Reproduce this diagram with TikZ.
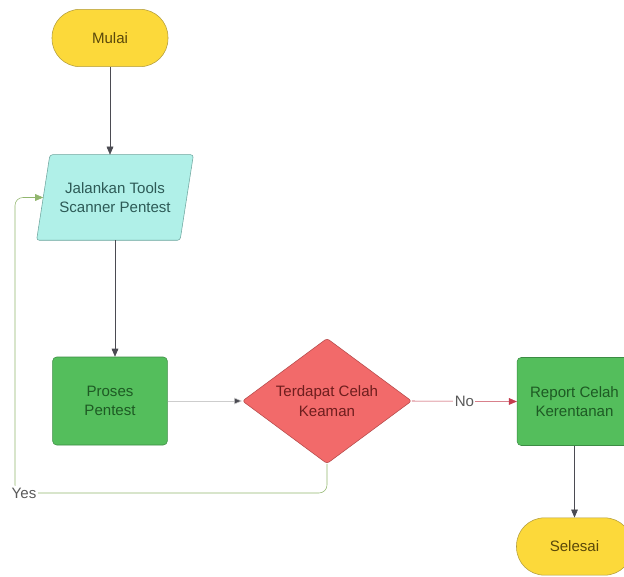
\documentclass[tikz,border=0pt]{standalone}
\usepackage{fontspec}
\setmainfont{Liberation Sans}
\usetikzlibrary{shapes.geometric,arrows.meta,backgrounds}
\definecolor{yfill}{RGB}{252,217,58}
\definecolor{ydraw}{RGB}{178,156,60}
\definecolor{ytext}{RGB}{90,72,10}
\definecolor{cfill}{RGB}{176,240,232}
\definecolor{cdraw}{RGB}{110,165,158}
\definecolor{ctext}{RGB}{45,90,86}
\definecolor{gfill}{RGB}{84,190,92}
\definecolor{gdraw}{RGB}{60,140,68}
\definecolor{gtext}{RGB}{30,90,36}
\definecolor{rfill}{RGB}{242,106,106}
\definecolor{rdraw}{RGB}{180,72,72}
\definecolor{rtext}{RGB}{110,30,30}
\definecolor{noline}{RGB}{196,60,78}
\definecolor{yesline}{RGB}{145,182,110}
\definecolor{darkline}{RGB}{75,75,82}
\definecolor{lightline}{RGB}{205,205,205}
\definecolor{lbltext}{RGB}{90,90,90}
\tikzset{
  every node/.style={font=\fontsize{11.3}{14.5}\selectfont, align=center},
  term/.style={draw=ydraw, fill=yfill, text=ytext, rounded corners=21pt, minimum width=87pt, minimum height=43pt, inner sep=0pt},
  iobox/.style={text=ctext, minimum width=107.25pt, minimum height=63.75pt, inner sep=0pt},
  ioshape/.style={draw=cdraw, fill=cfill, rounded corners=2pt},
  proc/.style={draw=gdraw, fill=gfill, text=gtext, rounded corners=3pt, minimum width=86pt, minimum height=66pt, inner sep=0pt},
  dec/.style={diamond, aspect=1.35, draw=rdraw, fill=rfill, text=rtext, minimum width=127pt, minimum height=94pt, inner sep=0pt, rounded corners=2pt},
  tip/.style={-{Triangle[length=6pt,width=5pt]}},
  lbl/.style={fill=white, text=lbltext, inner sep=1pt},
}
\begin{document}
\begin{tikzpicture}[x=0.75pt, y=-0.75pt]
\useasboundingbox (0,0) rectangle (624,577);
\clip (0,0) rectangle (624,577);
\node[term] (mulai) at (110,38) {Mulai};
\node[iobox] (para) at (115,197.5) {Jalankan Tools\\Scanner Pentest};
\begin{scope}[on background layer]
\fill[white] (0,0) rectangle (624,577);
\draw[ioshape] ([xshift=5pt]para.north west) -- ([xshift=5pt]para.north east)
  -- ([xshift=-5pt]para.south east) -- ([xshift=-5pt]para.south west) -- cycle;
\end{scope}
\node[proc] (proses) at (110,401) {Proses\\Pentest};
\node[dec] (dia) at (327,401) {Terdapat Celah\\Keaman};
\node[proc] (report) at (574.5,401.5) {Report Celah\\Kerentanan};
\node[term] (selesai) at (574.5,546.5) {Selesai};
\coordinate (corner) at (15,493);
\draw[darkline, tip] (mulai.south) -- (mulai.south |- para.north);
\draw[darkline, tip] (para.south) -- (para.south |- proses.north);
\draw[lightline, -{Triangle[length=6pt,width=5pt,fill=darkline]}] (proses.east) -- (dia.west);
\draw[noline, tip] (dia.east) -- node[lbl] (no) {No} (report.west);
\draw[darkline, tip] (report.south) -- (selesai.north);
\draw[yesline, tip, rounded corners=6pt] (dia.south) |- (corner) |- (para.west);
\node[lbl] (yes) at (24,493) {Yes};
\end{tikzpicture}
\end{document}
